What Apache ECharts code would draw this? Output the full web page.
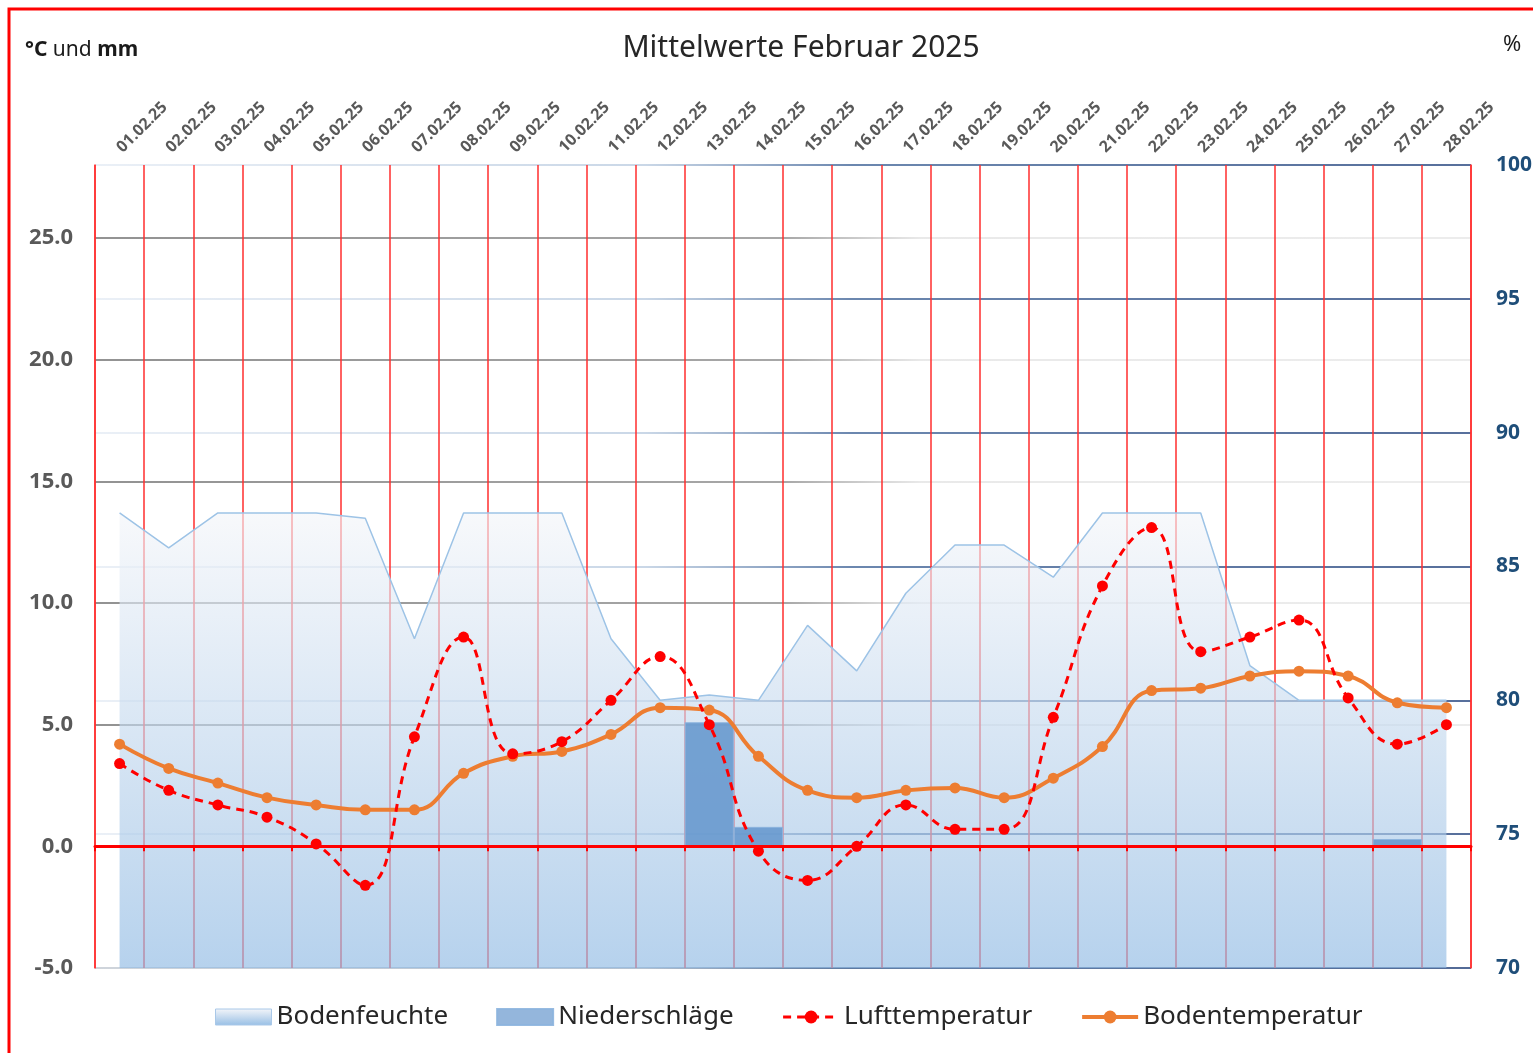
<!DOCTYPE html>
<html>
<head>
<meta charset="utf-8">
<script src="https://cdn.jsdelivr.net/npm/echarts@6/dist/echarts.min.js"></script>
<style>
    html, body { margin: 0; padding: 0; background: #fff; }
    #chart { width: 1533px; height: 1053px; }
</style>
</head>
<body>
<div id="chart"></div>
<script>
// Tage im Februar
const days = ['01.02.25', '02.02.25', '03.02.25', '04.02.25', '05.02.25', '06.02.25', '07.02.25',
    '08.02.25', '09.02.25', '10.02.25', '11.02.25', '12.02.25', '13.02.25', '14.02.25',
    '15.02.25', '16.02.25', '17.02.25', '18.02.25', '19.02.25', '20.02.25', '21.02.25',
    '22.02.25', '23.02.25', '24.02.25', '25.02.25', '26.02.25', '27.02.25', '28.02.25'];

// Bodenfeuchte in % (rechte Achse)
const bodenfeuchte = [87.0, 85.7, 87.0, 87.0, 87.0, 86.8, 82.3, 87.0, 87.0, 87.0, 82.3, 80.0, 80.2, 80.0,
    82.8, 81.1, 84.0, 85.8, 85.8, 84.6, 87.0, 87.0, 87.0, 81.3, 80.0, 80.0, 80.0, 80.0];

// Niederschläge in mm
const niederschlag = [0, 0, 0, 0, 0, 0, 0, 0, 0, 0, 0, 0, 5.1, 0.8,
    0, 0, 0, 0, 0, 0, 0, 0, 0, 0, 0, 0, 0.3, 0];

// Lufttemperatur in °C
const lufttemp = [3.4, 2.3, 1.7, 1.2, 0.1, -1.6, 4.5, 8.6, 3.8, 4.3, 6.0, 7.8, 5.0, -0.2,
    -1.4, 0.0, 1.7, 0.7, 0.7, 5.3, 10.7, 13.1, 8.0, 8.6, 9.3, 6.1, 4.2, 5.0];

// Bodentemperatur in °C
const bodentemp = [4.2, 3.2, 2.6, 2.0, 1.7, 1.5, 1.5, 3.0, 3.7, 3.9, 4.6, 5.7, 5.6, 3.7,
    2.3, 2.0, 2.3, 2.4, 2.0, 2.8, 4.1, 6.4, 6.5, 7.0, 7.2, 7.0, 5.9, 5.7];

const fontFamily = '"Noto Sans", "Open Sans", sans-serif';

// Gitternetzlinien mit Verlauf (links dunkel / rechts hell und umgekehrt)
const grauVerlauf = {
    type: 'linear', x: 0, y: 0, x2: 1, y2: 0,
    colorStops: [
        { offset: 0, color: '#6e6e6e' },
        { offset: 0.5, color: '#8a8a8a' },
        { offset: 0.6, color: '#e2e2e2' },
        { offset: 1, color: '#e6e6e6' }
    ]
};
const blauVerlauf = {
    type: 'linear', x: 0, y: 0, x2: 1, y2: 0,
    colorStops: [
        { offset: 0, color: '#e4ebf4' },
        { offset: 0.4, color: '#b8cadf' },
        { offset: 0.55, color: '#3a5f94' },
        { offset: 1, color: '#1f3f7a' }
    ]
};
const flaecheVerlauf = {
    type: 'linear', x: 0, y: 0, x2: 0, y2: 1,
    colorStops: [
        { offset: 0, color: 'rgba(243,245,249,0.9)' },
        { offset: 0.65, color: 'rgba(178,206,234,0.92)' },
        { offset: 1, color: 'rgba(145,187,228,0.95)' }
    ]
};

const chart = echarts.init(document.getElementById('chart'));
const option = {
    animation: false,
    backgroundColor: '#fff',
    textStyle: { fontFamily: fontFamily },
    graphic: [
        {
            type: 'rect',
            silent: true,
            z: 100,
            shape: { x: 9, y: 9, width: 1600, height: 1100 },
            style: { fill: 'none', stroke: '#ff0000', lineWidth: 3 }
        },
        {
            type: 'text',
            x: 801, y: 48,
            style: {
                text: 'Mittelwerte Februar 2025',
                font: '30px ' + fontFamily,
                fill: '#262626',
                align: 'center', textAlign: 'center',
                verticalAlign: 'middle', textVerticalAlign: 'middle'
            }
        },
        {
            type: 'text',
            x: 25, y: 50,
            style: {
                text: '{b|°C} und {b|mm}',
                font: '21px ' + fontFamily,
                fill: '#1a1a1a',
                verticalAlign: 'middle', textVerticalAlign: 'middle',
                rich: { b: { fontWeight: 'bold', fontSize: 21, fontFamily: fontFamily, fill: '#1a1a1a' } }
            }
        },
        {
            type: 'text',
            x: 1503, y: 45,
            style: {
                text: '%',
                font: '22px ' + fontFamily,
                fill: '#1a1a1a',
                verticalAlign: 'middle', textVerticalAlign: 'middle'
            }
        }
    ],
    grid: {
        left: 95,
        right: 62,
        top: 165,
        bottom: 85,
        containLabel: false,
        outerBoundsMode: 'none'
    },
    legend: {
        top: 999,
        left: 210,
        itemWidth: 56,
        itemHeight: 16,
        itemGap: 48,
        textStyle: { fontSize: 26, color: '#262626', fontFamily: fontFamily },
        data: [
            { name: 'Bodenfeuchte', icon: 'rect', itemStyle: { color: flaecheVerlauf, borderColor: '#a9c8e8', borderWidth: 1 } },
            { name: 'Niederschläge', icon: 'rect', itemStyle: { color: '#94b6dc' } },
            { name: 'Lufttemperatur', lineStyle: { width: 3 } },
            { name: 'Bodentemperatur', lineStyle: { width: 4 } }
        ]
    },
    xAxis: [
        {
            type: 'category',
            data: days,
            position: 'top',
            boundaryGap: true,
            axisLine: { show: false, onZero: false },
            axisTick: { show: false },
            axisLabel: {
                interval: 0,
                rotate: -45,
                margin: 15,
                color: '#595959',
                fontWeight: 'bold',
                fontSize: 16
            },
            splitLine: {
                show: true,
                interval: 0,
                lineStyle: { color: '#ff2e2e', width: 1.5 }
            }
        },
        {
            type: 'category',
            data: days,
            position: 'bottom',
            boundaryGap: true,
            z: 10,
            axisLine: {
                show: true,
                onZero: true,
                onZeroAxisIndex: 0,
                lineStyle: { color: '#ff0000', width: 3 }
            },
            axisTick: {
                show: true,
                interval: 0,
                length: 5,
                lineStyle: { color: '#ff0000', width: 2 }
            },
            axisLabel: { show: false },
            splitLine: { show: false }
        }
    ],
    yAxis: [
        {
            type: 'value',
            min: -5,
            max: 28,
            interval: 5,
            position: 'left',
            axisLine: { show: true, lineStyle: { color: '#ff3030', width: 1.5 } },
            axisTick: { show: false },
            axisLabel: {
                showMaxLabel: false,
                margin: 22,
                color: '#595959',
                fontWeight: 'bold',
                fontSize: 22,
                formatter: function (v) { return v.toFixed(1); }
            },
            splitLine: { showMaxLine: false, lineStyle: { color: grauVerlauf, width: 1.5 } }
        },
        {
            type: 'value',
            min: 70,
            max: 100,
            interval: 5,
            position: 'right',
            axisLine: { show: true, lineStyle: { color: '#ff3030', width: 1.5 } },
            axisTick: { show: false },
            axisLabel: {
                margin: 25,
                color: '#1f4e79',
                fontWeight: 'bold',
                fontSize: 21
            },
            splitLine: { show: true, lineStyle: { color: blauVerlauf, width: 1.5 } }
        }
    ],
    series: [
        {
            name: 'Bodenfeuchte',
            type: 'line',
            xAxisIndex: 0,
            yAxisIndex: 1,
            data: bodenfeuchte,
            symbol: 'none',
            z: 1,
            itemStyle: { color: '#a9c8e8' },
            lineStyle: { color: '#9dc3e6', width: 1.5 },
            areaStyle: { origin: 'start', color: flaecheVerlauf }
        },
        {
            name: 'Niederschläge',
            type: 'bar',
            xAxisIndex: 0,
            yAxisIndex: 0,
            data: niederschlag,
            barWidth: '100%',
            z: 2,
            itemStyle: { color: 'rgba(104,153,206,0.9)', borderColor: 'rgba(140,180,222,0.9)', borderWidth: 1 }
        },
        {
            name: 'Lufttemperatur',
            type: 'line',
            xAxisIndex: 0,
            yAxisIndex: 0,
            data: lufttemp,
            smooth: 0.45,
            symbol: 'circle',
            symbolSize: 11,
            z: 12,
            itemStyle: { color: '#ff0000' },
            lineStyle: { color: '#ff0000', width: 3, type: [8, 6] }
        },
        {
            name: 'Bodentemperatur',
            type: 'line',
            xAxisIndex: 0,
            yAxisIndex: 0,
            data: bodentemp,
            smooth: 0.45,
            symbol: 'circle',
            symbolSize: 11,
            z: 11,
            itemStyle: { color: '#ed7d31' },
            lineStyle: { color: '#ed7d31', width: 4 }
        }
    ]
};
chart.setOption(option);
</script>
</body>
</html>
